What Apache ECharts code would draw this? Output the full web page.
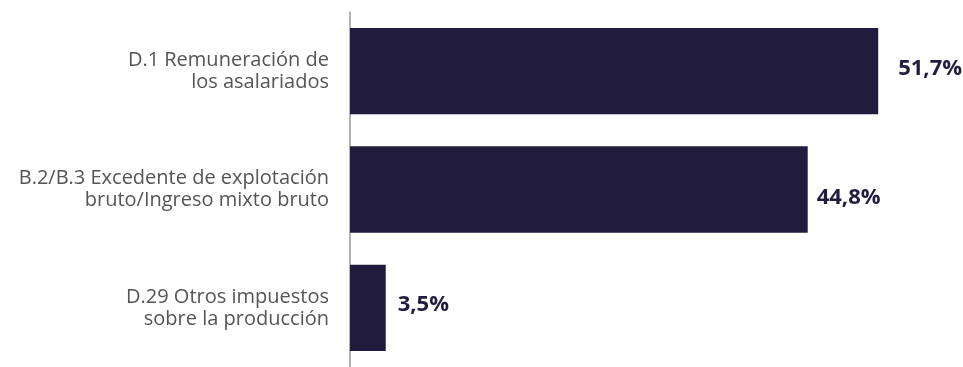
<!DOCTYPE html>
<html><head><meta charset="utf-8">
<script src="https://cdn.jsdelivr.net/npm/echarts@6/dist/echarts.min.js"></script>
<style>html,body{margin:0;padding:0;background:#fff}#c{width:963px;height:367px}</style>
</head><body><div id="c"></div>
<script>
const categories = ["D.1 Remuneración de\nlos asalariados", "B.2/B.3 Excedente de explotación\nbruto/Ingreso mixto bruto", "D.29 Otros impuestos\nsobre la producción"];
const values = [51.7, 44.8, 3.5];
const valueLabels = ["51,7%", "44,8%", "3,5%"];
const labelDist = [20, 9, 12];
const labelOffsetY = [-2, 8, -3];

const chart = echarts.init(document.getElementById('c'));
chart.setOption({
  animation: false,
  grid: {left: 350, right: 0, top: 12, height: 363},
  xAxis: {type: 'value', min: 0, max: 60, show: false},
  yAxis: {
    type: 'category', inverse: true, data: categories,
    axisLine: {show: true, lineStyle: {color: '#9a9a9a', width: 1.5}},
    axisTick: {show: false},
    axisLabel: {margin: 21, align: 'right', color: '#555555', fontFamily: 'Open Sans', fontSize: 20, lineHeight: 22}
  },
  series: [{
    type: 'bar', barCategoryGap: '27%',
    itemStyle: {color: '#211c3e'},
    data: values.map((v, i) => ({
      value: v,
      label: {show: true, position: 'right', distance: labelDist[i], offset: [0, labelOffsetY[i]],
        formatter: valueLabels[i], color: '#221c3f', fontFamily: 'Open Sans', fontWeight: 'bold', fontSize: 22}
    }))
  }]
});
</script></body></html>
